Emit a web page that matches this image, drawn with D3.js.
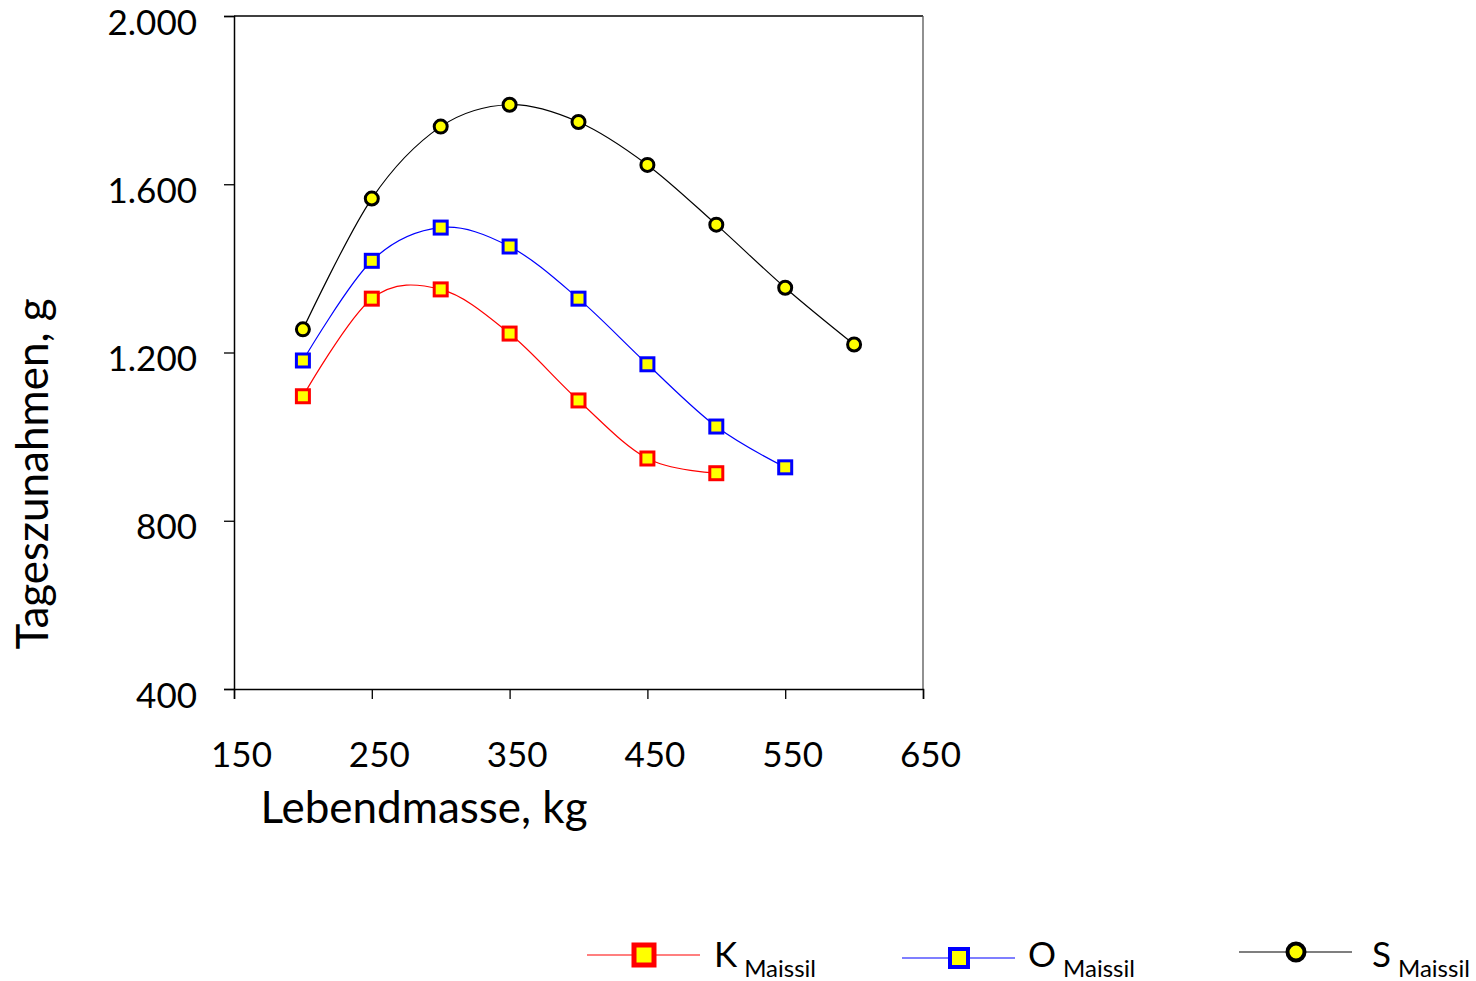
<!DOCTYPE html>
<html>
<head>
<meta charset="utf-8">
<script src="https://cdn.jsdelivr.net/npm/d3@7"></script>
<style>
  body { margin: 0; background: #fff; }
  svg text { font-family: Lato, "Open Sans", sans-serif; fill: #000; }
</style>
</head>
<body>
<div id="chart"></div>
<script>
// data
const massK = [200, 250, 300, 350, 400, 450, 500];
const gainK = [1096, 1328, 1350, 1245, 1086, 948, 913];
const massO = [200, 250, 300, 350, 400, 450, 500, 550];
const gainO = [1181, 1418, 1497, 1452, 1328, 1172, 1024, 927];
const massS = [200, 250, 300, 350, 400, 450, 500, 550, 600];
const gainS = [1255, 1566, 1737, 1789, 1748, 1646, 1504, 1354, 1219];
const xTicks = [150, 250, 350, 450, 550, 650];
const yTicks = [400, 800, 1200, 1600, 2000];

const w = 1476, h = 981;
const plotL = 234, plotR = 923, plotT = 16, plotB = 689;

const svg = d3.select("#chart").append("svg")
    .attr("width", w)
    .attr("height", h);

const x = d3.scaleLinear().domain([150, 650]).range([plotL, plotR]);
const y = d3.scaleLinear().domain([400, 2000]).range([plotB, plotT]);

// frame
svg.append("line").attr("x1", plotL).attr("x2", plotR).attr("y1", plotT).attr("y2", plotT)
    .attr("stroke", "#000").attr("stroke-width", 1.3);
svg.append("line").attr("x1", plotR).attr("x2", plotR).attr("y1", plotT).attr("y2", plotB)
    .attr("stroke", "#555").attr("stroke-width", 1.3);

// axes
const yAxis = svg.append("g")
    .attr("transform", "translate(" + plotL + ",0)")
    .call(d3.axisLeft(y).tickValues(yTicks).tickSize(10).tickPadding(0)
        .tickFormat(d => d3.format(",")(d).replace(",", ".")));
yAxis.select(".domain").attr("stroke-width", 1.5);
yAxis.selectAll(".tick line").attr("stroke-width", 1.3);
yAxis.selectAll("text")
    .attr("x", -37).attr("dy", "0.52em")
    .style("font-size", "35px");

const xAxis = svg.append("g")
    .attr("transform", "translate(0," + plotB + ")")
    .call(d3.axisBottom(x).tickValues(xTicks).tickSize(10).tickPadding(0));
xAxis.select(".domain").attr("stroke-width", 1.5);
xAxis.selectAll(".tick line").attr("stroke-width", 1.3);
xAxis.selectAll("text")
    .attr("x", 7).attr("y", 66).attr("dy", "0.35em")
    .style("font-size", "35px");

// titles
svg.append("text")
    .attr("x", 424).attr("y", 808)
    .attr("text-anchor", "middle").attr("dy", "0.35em")
    .style("font-size", "44px")
    .text("Lebendmasse, kg");

svg.append("text")
    .attr("transform", "translate(33,474) rotate(-90)")
    .attr("text-anchor", "middle").attr("dy", "0.35em")
    .style("font-size", "44px")
    .text("Tageszunahmen, g");

const series = [
    { name: "K", xs: massK, ys: gainK, color: "#ff0000", shape: "square" },
    { name: "O", xs: massO, ys: gainO, color: "#0000ff", shape: "square" },
    { name: "S", xs: massS, ys: gainS, color: "#000000", shape: "circle" }
];

const line = d3.line()
    .x(d => x(d[0]))
    .y(d => y(d[1]))
    .curve(d3.curveCardinal.tension(0));

function marker(g, shape, color, size, sw) {
    if (shape === "square") {
        g.append("rect")
            .attr("x", -size / 2).attr("y", -size / 2)
            .attr("width", size).attr("height", size)
            .attr("fill", "#ffff00")
            .attr("stroke", color).attr("stroke-width", sw);
    } else {
        g.append("circle")
            .attr("r", size / 2)
            .attr("fill", "#ffff00")
            .attr("stroke", color).attr("stroke-width", sw);
    }
}

series.forEach(s => {
    const pts = s.xs.map((v, i) => [v, s.ys[i]]);
    svg.append("path")
        .datum(pts)
        .attr("fill", "none")
        .attr("stroke", s.color)
        .attr("stroke-width", 1.2)
        .attr("d", line);
    pts.forEach(p => {
        const g = svg.append("g").attr("transform", "translate(" + x(p[0]) + "," + y(p[1]) + ")");
        marker(g, s.shape, s.color, 13, 3);
    });
});

// legend
const legend = [
    { lx: 587, ly: 955, tx: 714, size: 20, sw: 5 },
    { lx: 902, ly: 958, tx: 1028, size: 18, sw: 4 },
    { lx: 1239, ly: 952, tx: 1372, size: 17, sw: 4 }
];

series.forEach((s, i) => {
    const L = legend[i];
    svg.append("line")
        .attr("x1", L.lx).attr("x2", L.lx + 113)
        .attr("y1", L.ly).attr("y2", L.ly)
        .attr("stroke", s.color).attr("stroke-width", 1.2);
    const g = svg.append("g").attr("transform", "translate(" + (L.lx + 57) + "," + L.ly + ")");
    marker(g, s.shape, s.color, L.size, L.sw);
    const t = svg.append("text")
        .attr("x", L.tx).attr("y", 967)
        .style("font-size", "35px");
    t.append("tspan").text(s.name);
    t.append("tspan").attr("dx", 7).attr("dy", 10)
        .style("font-size", "24px").text("Maissil");
});
</script>
</body>
</html>
